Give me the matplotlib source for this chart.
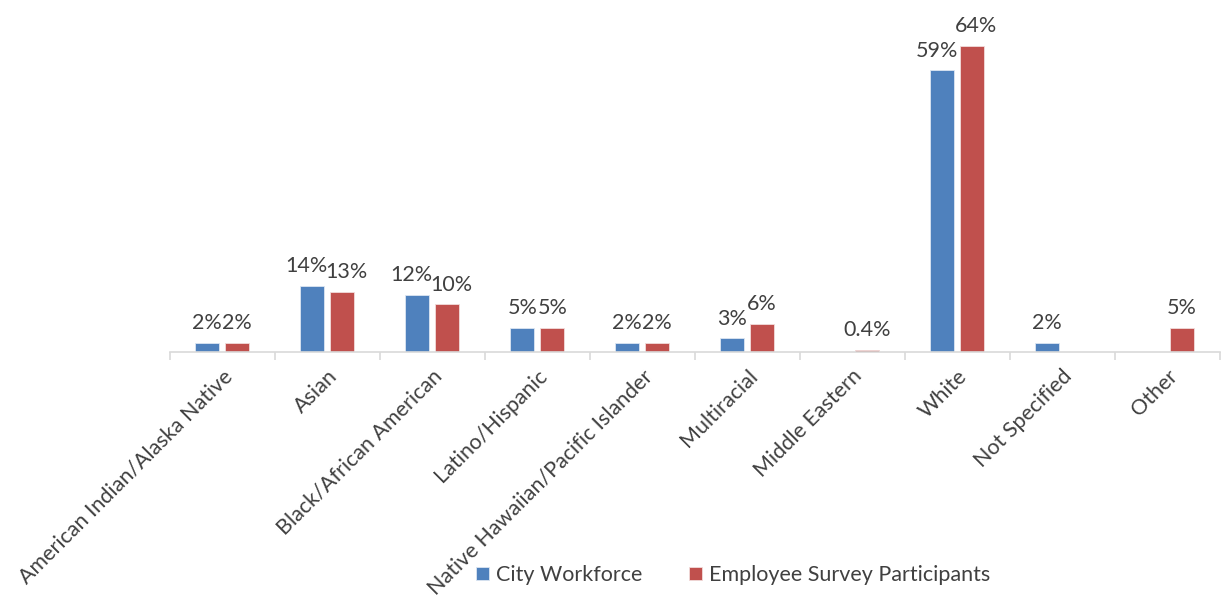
import numpy as np
import matplotlib.pyplot as plt

categories = ['American Indian/Alaska Native', 'Asian', 'Black/African American',
              'Latino/Hispanic', 'Native Hawaiian/Pacific Islander', 'Multiracial',
              'Middle Eastern', 'White', 'Not Specified', 'Other']
city = [1.9, 13.8, 11.9, 5.0, 1.9, 2.9, np.nan, 58.9, 1.9, np.nan]
survey = [1.9, 12.6, 10.0, 5.0, 1.9, 5.9, 0.4, 64.0, np.nan, 5.0]
city_labels = ['2%', '14%', '12%', '5%', '2%', '3%', '', '59%', '2%', '']
survey_labels = ['2%', '13%', '10%', '5%', '2%', '6%', '0.4%', '64%', '', '5%']

blue = '#4F81BD'
red = '#C0504D'
txt = '#404040'
grid = '#D9D9D9'

plt.rcParams['font.family'] = ['Lato', 'DejaVu Sans']

fig = plt.figure(figsize=(12.22, 6.04), dpi=100)
ax = fig.add_axes([0.139, 0.417, 0.859, 0.583])

x = np.arange(len(categories))
w = 0.229
off = 0.143
b1 = ax.bar(x - off, city, w, color=blue, edgecolor='#DCE6F2', linewidth=0.6, label='City Workforce')
b2 = ax.bar(x + off, survey, w, color=red, edgecolor='#F2DCDB', linewidth=0.6, label='Employee Survey Participants')

# labels that sit next to each other get pushed apart a little, as in the original
for bars, labs, dx in ((b1, city_labels, -4), (b2, survey_labels, 3)):
    for rect, lab in zip(bars, labs):
        if not lab:
            continue
        h = rect.get_height()
        ax.annotate(lab, (rect.get_x() + rect.get_width() / 2, h), xytext=(dx if h > 8 else 0, 7),
                    textcoords='offset points', ha='center', va='bottom',
                    fontsize=15.5, color=txt)

ax.set_xlim(-0.5, len(categories) - 0.5)
ax.set_ylim(0, 73.6)
for s in ['top', 'right', 'left']:
    ax.spines[s].set_visible(False)
ax.spines['bottom'].set_color(grid)
ax.spines['bottom'].set_linewidth(1.2)
ax.set_yticks([])

ax.set_xticks(np.arange(len(categories) + 1) - 0.5, minor=False)
ax.set_xticklabels([])
ax.tick_params(axis='x', length=6, color=grid, width=1.2)
ax.set_xticks(x, minor=True)
ax.set_xticklabels(categories, minor=True, rotation=45, ha='right',
                   rotation_mode='anchor', fontsize=15.5, color=txt)
ax.tick_params(axis='x', which='minor', length=0, pad=10)

fig.legend(handles=[b1, b2], loc='center', bbox_to_anchor=(0.6, 0.048), ncol=2,
           frameon=False, fontsize=15.5, labelcolor=txt, handlelength=0.6,
           handleheight=0.6, handletextpad=0.3, columnspacing=2.2)

fig.savefig('out.png', dpi=100)
